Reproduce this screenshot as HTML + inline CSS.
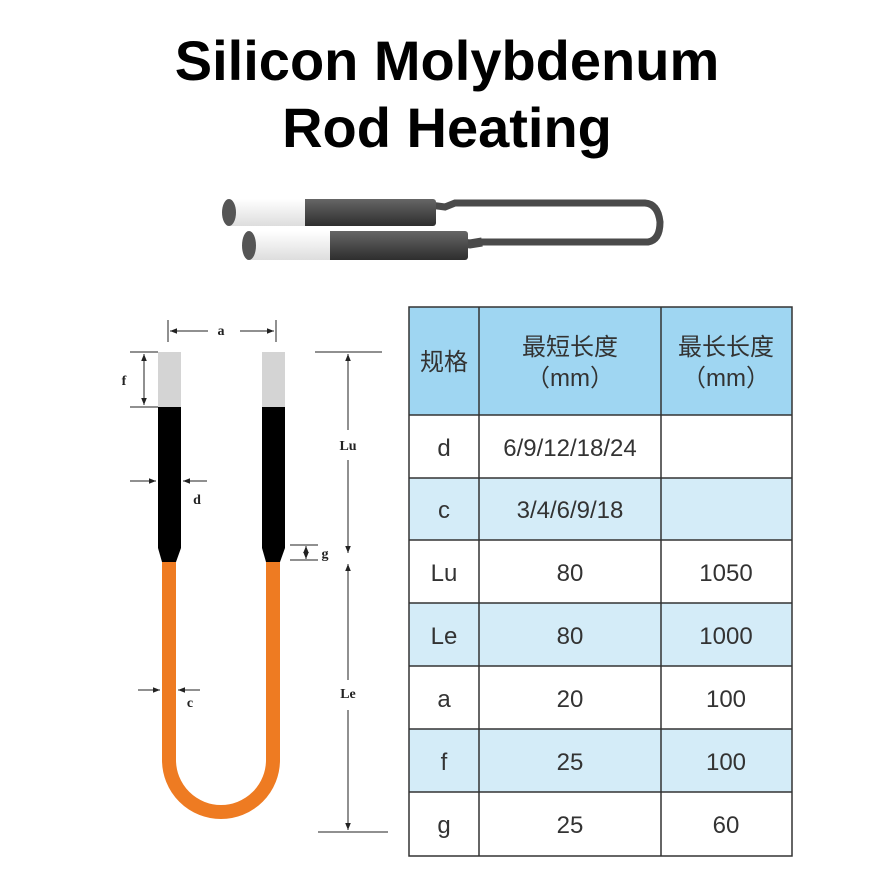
<!DOCTYPE html>
<html><head><meta charset="utf-8"><style>
body{margin:0;background:#fff;width:893px;height:880px;overflow:hidden}
</style></head><body>
<svg width="893" height="880" xmlns="http://www.w3.org/2000/svg" font-family="Liberation Sans, sans-serif">
<defs>
<linearGradient id="rod" x1="0" y1="0" x2="0" y2="1"><stop offset="0" stop-color="#666"/><stop offset="0.3" stop-color="#555"/><stop offset="1" stop-color="#2e2e2e"/></linearGradient>
<linearGradient id="cap" x1="0" y1="0" x2="0" y2="1"><stop offset="0" stop-color="#fff"/><stop offset="1" stop-color="#ddd"/></linearGradient>
<marker id="ar" viewBox="0 0 10 10" refX="10" refY="5" markerWidth="7" markerHeight="7" orient="auto-start-reverse"><path d="M0,1 L10,5 L0,9 z" fill="#222"/></marker>
</defs>
<text x="447" y="80" text-anchor="middle" font-size="56" font-weight="bold" fill="#000">Silicon Molybdenum</text>
<text x="447" y="147" text-anchor="middle" font-size="56" font-weight="bold" fill="#000">Rod Heating</text>

<path d="M430,205 L445,207 L455,203 L645,203 Q658,204 660,222 Q660,240 648,242 L480,242" fill="none" stroke="#4a4a4a" stroke-width="7"/>
<rect x="226" y="199" width="210" height="27" rx="3" fill="url(#rod)"/>
<rect x="228" y="199" width="77" height="27" fill="url(#cap)"/>
<ellipse cx="229" cy="212.5" rx="7" ry="13.5" fill="#555"/>
<path d="M455,242 L470,244 L482,242" fill="none" stroke="#4a4a4a" stroke-width="9"/>
<rect x="246" y="231" width="222" height="29" rx="3" fill="url(#rod)"/>
<rect x="248" y="231" width="82" height="29" fill="url(#cap)"/>
<ellipse cx="249" cy="245.5" rx="7" ry="14.5" fill="#555"/>

<g>
<path d="M169,545 L169,760 A52,52 0 0 0 273,760 L273,545" fill="none" stroke="#ee7b22" stroke-width="14"/>
<rect x="158" y="352" width="23" height="55" fill="#d4d4d4"/>
<path d="M158,407 L181,407 L181,548 L176,562 L162,562 L158,548 Z" fill="#000"/>
<rect x="262" y="352" width="23" height="55" fill="#d4d4d4"/>
<path d="M262,407 L285,407 L285,548 L280,562 L266,562 L262,548 Z" fill="#000"/>
</g>
<g stroke="#222" stroke-width="1" fill="none">
<line x1="168" y1="320" x2="168" y2="342"/><line x1="276" y1="320" x2="276" y2="342"/>
<line x1="208" y1="331" x2="170" y2="331" marker-end="url(#ar)"/><line x1="240" y1="331" x2="274" y2="331" marker-end="url(#ar)"/>
<line x1="130" y1="352" x2="158" y2="352"/><line x1="130" y1="407" x2="158" y2="407"/>
<line x1="144" y1="354" x2="144" y2="405" marker-start="url(#ar)" marker-end="url(#ar)"/>
<line x1="130" y1="481" x2="156" y2="481" marker-end="url(#ar)"/><line x1="207" y1="481" x2="183" y2="481" marker-end="url(#ar)"/>
<line x1="138" y1="690" x2="160" y2="690" marker-end="url(#ar)"/><line x1="200" y1="690" x2="178" y2="690" marker-end="url(#ar)"/>
<line x1="315" y1="352" x2="382" y2="352"/>
<line x1="348" y1="430" x2="348" y2="354" marker-end="url(#ar)"/><line x1="348" y1="460" x2="348" y2="553" marker-end="url(#ar)"/>
<line x1="348" y1="680" x2="348" y2="564" marker-end="url(#ar)"/><line x1="348" y1="710" x2="348" y2="830" marker-end="url(#ar)"/>
<line x1="318" y1="832" x2="388" y2="832"/>
<line x1="290" y1="545" x2="318" y2="545"/><line x1="290" y1="560" x2="318" y2="560"/>
<line x1="306" y1="546" x2="306" y2="559" marker-start="url(#ar)" marker-end="url(#ar)"/>
</g>
<g font-family="Liberation Serif, serif" font-weight="bold" font-size="14" fill="#222">
<text x="221" y="335" text-anchor="middle">a</text>
<text x="124" y="385" text-anchor="middle">f</text>
<text x="197" y="504" text-anchor="middle">d</text>
<text x="190" y="707" text-anchor="middle">c</text>
<text x="348" y="450" text-anchor="middle">Lu</text>
<text x="348" y="698" text-anchor="middle">Le</text>
<text x="325" y="558" text-anchor="middle">g</text>
</g>

<rect x="409" y="307" width="383" height="108" fill="#9fd6f2"/>
<rect x="409" y="478" width="383" height="62" fill="#d4ecf8"/>
<rect x="409" y="603" width="383" height="63" fill="#d4ecf8"/>
<rect x="409" y="729" width="383" height="63" fill="#d4ecf8"/>
<g stroke="#333" stroke-width="1.5" fill="none">
<rect x="409" y="307" width="383" height="549"/>
<line x1="479" y1="307" x2="479" y2="856"/><line x1="661" y1="307" x2="661" y2="856"/>
<line x1="409" y1="415" x2="792" y2="415"/><line x1="409" y1="478" x2="792" y2="478"/>
<line x1="409" y1="540" x2="792" y2="540"/><line x1="409" y1="603" x2="792" y2="603"/>
<line x1="409" y1="666" x2="792" y2="666"/><line x1="409" y1="729" x2="792" y2="729"/>
<line x1="409" y1="792" x2="792" y2="792"/>
</g>
<g font-family="Liberation Sans, Noto Sans CJK SC, sans-serif" font-size="24" fill="#333" text-anchor="middle">
<text x="444" y="370">规格</text>
<text x="570" y="355">最短长度</text><text x="570" y="386">（mm）</text>
<text x="726" y="355">最长长度</text><text x="726" y="386">（mm）</text>
<text x="444" y="456">d</text><text x="570" y="456">6/9/12/18/24</text>
<text x="444" y="518">c</text><text x="570" y="518">3/4/6/9/18</text>
<text x="444" y="581">Lu</text><text x="570" y="581">80</text><text x="726" y="581">1050</text>
<text x="444" y="644">Le</text><text x="570" y="644">80</text><text x="726" y="644">1000</text>
<text x="444" y="707">a</text><text x="570" y="707">20</text><text x="726" y="707">100</text>
<text x="444" y="770">f</text><text x="570" y="770">25</text><text x="726" y="770">100</text>
<text x="444" y="833">g</text><text x="570" y="833">25</text><text x="726" y="833">60</text>
</g>
</svg>
</body></html>
